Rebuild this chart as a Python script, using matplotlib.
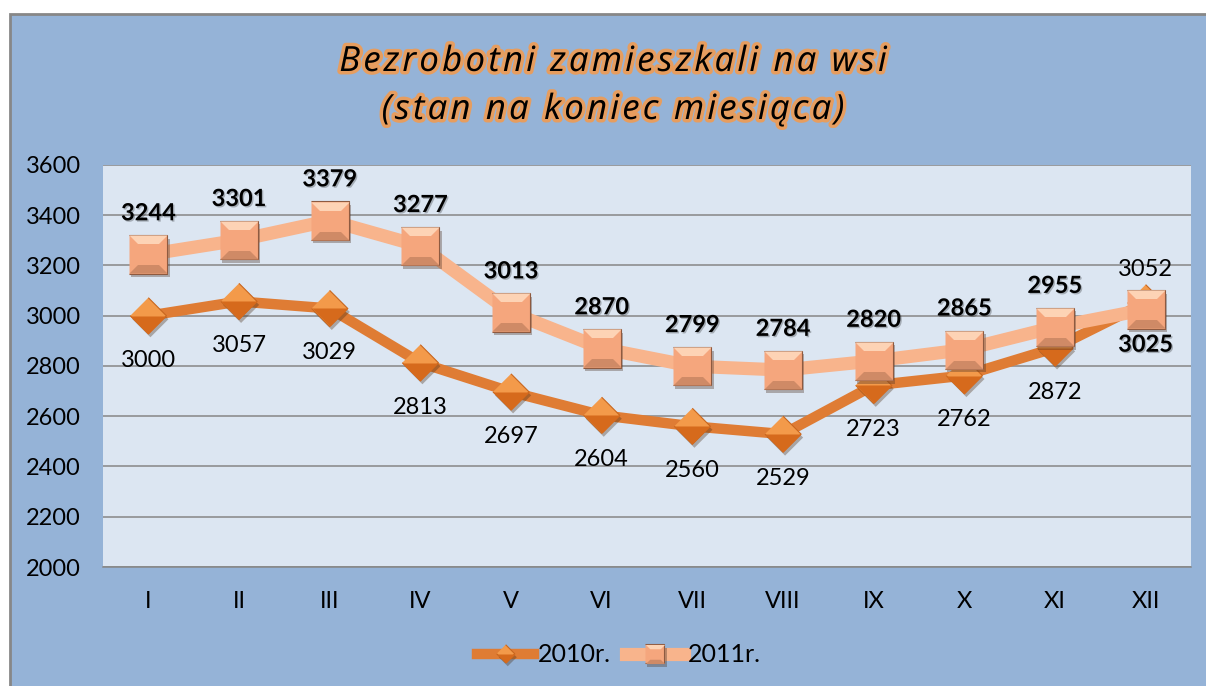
import matplotlib
matplotlib.use("Agg")
import matplotlib.pyplot as plt
import matplotlib.patheffects as pe
from matplotlib.patches import Rectangle
from matplotlib.legend_handler import HandlerTuple

# Data
months = ["I", "II", "III", "IV", "V", "VI", "VII", "VIII", "IX", "X", "XI", "XII"]
y2010 = [3000, 3057, 3029, 2813, 2697, 2604, 2560, 2529, 2723, 2762, 2872, 3052]
y2011 = [3244, 3301, 3379, 3277, 3013, 2870, 2799, 2784, 2820, 2865, 2955, 3025]
series_labels = ["2010r.", "2011r."]
yticks = [2000, 2200, 2400, 2600, 2800, 3000, 3200, 3400, 3600]
title_lines = ["Bezrobotni zamieszkali na wsi", "(stan na koniec miesiąca)"]

plt.rcParams["font.family"] = ["Lato", "DejaVu Sans"]

# marker shapes (unit outlines, scaled by markersize)
diamond = [(0, 1), (1, 0), (0, -1), (-1, 0)]
diamond_low = [(-1, 0), (1, 0), (0, -1)]
square = [(-1, -1), (1, -1), (1, 1), (-1, 1)]
sq_top = [(-1, 1), (1, 1), (0.55, 0.55), (-0.55, 0.55)]
sq_bot = [(-1, -1), (1, -1), (0.55, -0.55), (-0.55, -0.55)]

fig = plt.figure(figsize=(12.06, 6.86), dpi=100)
fig.patch.set_facecolor("white")
fig.patches.append(Rectangle((10 / 1206, -0.05), 1.05, 1.05 - 14 / 686,
                             transform=fig.transFigure, facecolor="#95B3D7",
                             edgecolor="#878787", linewidth=2, zorder=-1))

ax = fig.add_axes([103 / 1206, 1 - 567 / 686, (1191 - 103) / 1206, (567 - 165) / 686])
ax.set_zorder(1)
ax.set_facecolor("#DCE6F2")
x = list(range(len(months)))

# 2010 series
c10 = "#DF7C34"
ms10 = 26
ax.plot(x, y2010, color=c10, lw=7.5, zorder=3, solid_capstyle="round")
shadow = [pe.SimplePatchShadow(offset=(1.5, -2.5), alpha=0.35), pe.Normal()]
d1, = ax.plot(x, y2010, ls="none", marker=diamond, ms=ms10, mfc="#F39A4A",
              mec="#C8661E", mew=0.8, zorder=4, path_effects=shadow)
d2, = ax.plot(x, y2010, ls="none", marker=diamond_low, ms=ms10, mfc="#D66A1C",
              mec="none", zorder=4)

# 2011 series
c11 = "#F8B48C"
ms11 = 27.5
ax.plot(x, y2011, color=c11, lw=9.5, zorder=5, solid_capstyle="round")
s1, = ax.plot(x, y2011, ls="none", marker=square, ms=ms11, mfc="#F5A67D",
              mec="#8E5A40", mew=0.8, zorder=6, path_effects=shadow)
s2, = ax.plot(x, y2011, ls="none", marker=sq_top, ms=ms11, mfc="#FDD3B5",
              mec="none", zorder=6)
s3, = ax.plot(x, y2011, ls="none", marker=sq_bot, ms=ms11, mfc="#CF8A66",
              mec="none", zorder=6)

# data labels
for i, v in enumerate(y2010):
    dy = 24 if i == len(y2010) - 1 else -32
    ax.annotate(str(v), (i, v), xytext=(0, dy), textcoords="offset points",
                ha="center", va="center", fontsize=17, color="black", zorder=8)
for i, v in enumerate(y2011):
    dy = -25 if i == len(y2011) - 1 else 30
    ax.annotate(str(v), (i, v), xytext=(0, dy), textcoords="offset points",
                ha="center", va="center", fontsize=17, fontweight="bold",
                color="black", zorder=8,
                path_effects=[pe.withSimplePatchShadow(offset=(1, -1), alpha=0.25)])

ax.set_xlim(-0.5, len(months) - 0.5)
ax.set_ylim(2000, 3600)
ax.set_yticks(yticks)
ax.set_xticks(x)
ax.set_xticklabels(months)
ax.tick_params(axis="both", length=0, labelsize=17)
ax.tick_params(axis="y", pad=16)
ax.tick_params(axis="x", pad=17)
ax.yaxis.grid(True, color="#868686", lw=1.1)
ax.set_axisbelow(True)
for side in ["top", "right", "left"]:
    ax.spines[side].set_visible(False)
ax.spines["bottom"].set_color("#868686")
ax.spines["bottom"].set_linewidth(1.1)

# title with orange glow and expanded letter spacing
glow = [pe.withStroke(linewidth=5, foreground="#F59A4A", alpha=0.85)]
title_font = dict(va="center", fontsize=25, style="italic",
                  family=["Open Sans", "DejaVu Sans"], path_effects=glow)
renderer = fig.canvas.get_renderer()
track = 3.2  # extra pixels between letters
for line, ypx in zip(title_lines, [62, 110]):
    probe = fig.text(0, 0, line, **title_font)
    full_w = probe.get_window_extent(renderer).width
    probe.remove()
    total = full_w + track * (len(line) - 1)
    x0 = 613 - total / 2
    for k, ch in enumerate(line):
        if k:
            p = fig.text(0, 0, line[:k], **title_font)
            pre_w = p.get_window_extent(renderer).width
            p.remove()
        else:
            pre_w = 0
        fig.text((x0 + pre_w + track * k) / 1206, 1 - ypx / 686, ch,
                 ha="left", **title_font)

# legend
h10, = ax.plot([], [], color=c10, lw=7.5)
h11, = ax.plot([], [], color=c11, lw=9.5)
fig.legend([(h10, d1, d2), (h11, s1, s2, s3)], series_labels,
           handler_map={tuple: HandlerTuple(ndivide=1)},
           loc="center", bbox_to_anchor=(0.513, 1 - 655 / 686), ncol=2,
           frameon=False, fontsize=18, markerscale=0.5, handlelength=2.3,
           columnspacing=0.6, handletextpad=0.15)

fig.savefig("out.png", dpi=100)
